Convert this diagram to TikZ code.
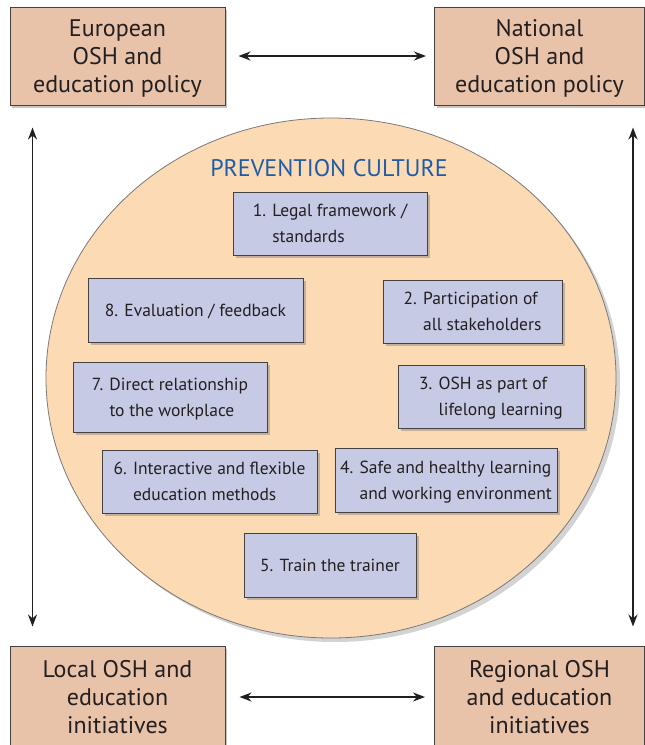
\documentclass[tikz,border=0pt]{standalone}
\usepackage{fontspec}
\setmainfont{PT Sans}
\usetikzlibrary{arrows.meta,shadows,shapes.geometric}
\definecolor{levelfill}{HTML}{E8C3A9}
\definecolor{culturefill}{HTML}{FCDAB3}
\definecolor{principlefill}{HTML}{C6CAE5}
\definecolor{headline}{HTML}{1F5CA8}
\definecolor{ink}{HTML}{231F20}
\newcommand{\hang}[1]{\phantom{#1}}

\begin{document}
\begin{tikzpicture}[x=1pt,y=-1pt,
level/.style={draw=ink!85, line width=1pt, fill=levelfill, align=center, inner sep=0pt,
	minimum height=98pt, text=ink, font=\fontsize{24}{28}\selectfont,
	drop shadow={shadow xshift=2pt, shadow yshift=-3pt, opacity=.45}},
principle/.style={draw=ink!85, line width=1pt, fill=principlefill, align=left, inner sep=0pt,
	minimum height=63pt, text depth=0pt, text=ink, font=\fontsize{17.5}{26}\selectfont,
	drop shadow={shadow xshift=3pt, shadow yshift=-3pt, opacity=.45}},
link/.style={{Stealth[length=12pt,width=9pt]}-{Stealth[length=12pt,width=9pt]}, line width=1.8pt, draw=ink}]
\useasboundingbox (0,0) rectangle (645,745);

%the four policy levels
\node[level, minimum width=215pt, text depth=0pt](eu) at (117.5,56) {European\\OSH and\\education policy};
\node[level, minimum width=210pt, text depth=0pt](nat) at (539.5,56) {National\\OSH and\\education policy};
\node[level, minimum width=215pt, minimum height=102pt](loc) at (117.5,697) {Local OSH and\\education\\initiatives};
\node[level, minimum width=210pt, minimum height=102pt](reg) at (539.5,697) {Regional OSH\\and education\\initiatives};

%prevention culture
\node[ellipse, draw=ink!60, line width=.8pt, fill=culturefill, minimum width=570pt, minimum height=520pt,
	drop shadow={shadow xshift=4pt, shadow yshift=-4pt, opacity=.35}](culture) at (331,378) {};
\node[text=headline, font=\fontsize{24}{26}\selectfont](title) at (329,168) {PREVENTION CULTURE};

%the eight principles
\node[principle, minimum width=194pt](p1) at (330,223.5) {1. Legal framework /\\\hang{1. }standards};
\node[principle, minimum width=179pt](p2) at (472.5,311.5) {2. Participation of\\\hang{2. }all stakeholders};
\node[principle, minimum width=186pt](p3) at (491,396.5) {3. OSH as part of\\\hang{3. }lifelong learning};
\node[principle, minimum width=222pt, minimum height=64pt](p4) at (446,480) {4. Safe and healthy learning\\\hang{4. }and working environment};
\node[principle, minimum width=172pt, minimum height=64pt](p5) at (330,565) {5. Train the trainer};
\node[principle, minimum width=215pt](p6) at (209.5,481.5) {6. Interactive and flexible\\\hang{6. }education methods};
\node[principle, minimum width=194pt, minimum height=70pt](p7) at (170,397) {7. Direct relationship\\\hang{7. }to the workplace};
\node[principle, minimum width=215pt, minimum height=64pt](p8) at (195.5,310) {8. Evaluation / feedback};

%links between the levels
\draw[link, shorten <=13pt, shorten >=8pt] (eu.east) -- (nat.west);
\draw[link, shorten <=14pt, shorten >=9pt] (loc.east) -- (reg.west);
\draw[link] ([xshift=23pt,yshift=-22pt]eu.south west) -- ([xshift=23pt,yshift=19pt]loc.north west);
\draw[link] ([xshift=-12pt,yshift=-22pt]nat.south east) -- ([xshift=-12pt,yshift=19pt]reg.north east);
\end{tikzpicture}
\end{document}
